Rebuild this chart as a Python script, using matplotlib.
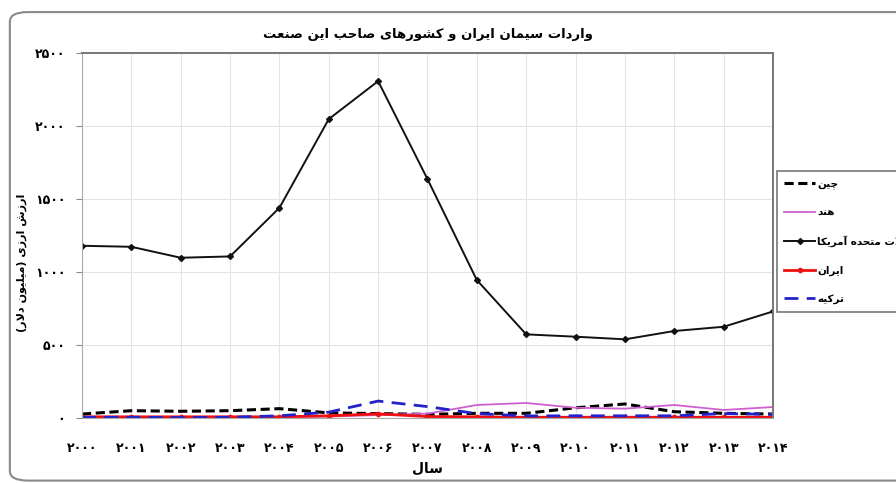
import matplotlib
matplotlib.use("Agg")
import matplotlib.pyplot as plt
from matplotlib.patches import FancyBboxPatch

# data (million dollars)
years = list(range(2000, 2015))
china = [27, 50, 46, 50, 64, 35, 30, 25, 32, 32, 70, 96, 43, 32, 27]
india = [3, 3, 3, 3, 5, 10, 20, 30, 89, 103, 70, 64, 89, 55, 75]
usa = [1180, 1173, 1098, 1107, 1440, 2048, 2308, 1637, 945, 573, 557, 539, 596, 625, 730]
iran = [8, 8, 8, 8, 8, 15, 28, 10, 8, 5, 5, 5, 5, 5, 5]
turkey = [5, 5, 3, 5, 15, 40, 116, 78, 30, 14, 15, 15, 15, 30, 25]

yticks = [0, 500, 1000, 1500, 2000, 2500]

title = "واردات سیمان ایران و کشورهای صاحب این صنعت"
ylab = "ارزش ارزی (میلیون دلار)"
xlab = "سال"
names = ["چین", "هند", "ایالات متحده آمریکا", "ایران", "ترکیه"]

# matplotlib does no arabic shaping / bidi, so do a small one by hand
# (isolated, final, initial, medial)
FORMS = {
    'ا': ('\uFE8D', '\uFE8E', None, None),
    'آ': ('\uFE81', '\uFE82', None, None),
    'ب': ('\uFE8F', '\uFE90', '\uFE91', '\uFE92'),
    'ت': ('\uFE95', '\uFE96', '\uFE97', '\uFE98'),
    'ح': ('\uFEA1', '\uFEA2', '\uFEA3', '\uFEA4'),
    'د': ('\uFEA9', '\uFEAA', None, None),
    'ر': ('\uFEAD', '\uFEAE', None, None),
    'ز': ('\uFEAF', '\uFEB0', None, None),
    'س': ('\uFEB1', '\uFEB2', '\uFEB3', '\uFEB4'),
    'ش': ('\uFEB5', '\uFEB6', '\uFEB7', '\uFEB8'),
    'ص': ('\uFEB9', '\uFEBA', '\uFEBB', '\uFEBC'),
    'ع': ('\uFEC9', '\uFECA', '\uFECB', '\uFECC'),
    'ل': ('\uFEDD', '\uFEDE', '\uFEDF', '\uFEE0'),
    'م': ('\uFEE1', '\uFEE2', '\uFEE3', '\uFEE4'),
    'ن': ('\uFEE5', '\uFEE6', '\uFEE7', '\uFEE8'),
    'ه': ('\uFEE9', '\uFEEA', '\uFEEB', '\uFEEC'),
    'و': ('\uFEED', '\uFEEE', None, None),
    'ی': ('\uFBFC', '\uFBFD', '\uFBFE', '\uFBFF'),
    'ک': ('\uFB8E', '\uFB8F', '\uFB90', '\uFB91'),
    'چ': ('\uFB7A', '\uFB7B', '\uFB7C', '\uFB7D'),
}


def fa(text):
    res = []
    i = 0
    n = len(text)
    while i < n:
        c = text[i]
        if c not in FORMS:
            res.append(c)
            i += 1
            continue
        prev = text[i - 1] if i > 0 else None
        nxt = text[i + 1] if i + 1 < n else None
        jp = prev in FORMS and FORMS[prev][2] is not None
        if c == 'ل' and nxt == 'ا':
            res.append('\uFEFC' if jp else '\uFEFB')
            i += 2
            continue
        jn = nxt in FORMS and FORMS[c][2] is not None
        f = FORMS[c]
        if jp and jn:
            res.append(f[3])
        elif jp:
            res.append(f[1])
        elif jn:
            res.append(f[2])
        else:
            res.append(f[0])
        i += 1
    out = ''.join(reversed(res))
    return out.translate(str.maketrans('()', ')('))


def fa_num(v):
    return str(v).translate(str.maketrans('0123456789', '۰۱۲۳۴۵۶۷۸۹'))


plt.rcParams['font.family'] = ['DejaVu Sans']

fig = plt.figure(figsize=(8.96, 4.83), dpi=100)
fig.patches.append(FancyBboxPatch((0.011, 0.005), 1.2, 0.97,
                                  boxstyle="round,pad=0,rounding_size=0.02",
                                  transform=fig.transFigure, fc='white',
                                  ec='#8a8a8a', lw=1.5, zorder=-1))
ax = fig.add_axes([0.0915, 0.1346, 0.7712, 0.7554])

ax.plot(years, china, color='black', lw=2.2, ls=(0, (3, 1.5)), label=fa(names[0]))
ax.plot(years, india, color='#d060d0', lw=1.3, label=fa(names[1]))
ax.plot(years, usa, color='#111111', lw=1.4, marker='D', ms=3, label=fa(names[2]))
ax.plot(years, iran, color='#ee1111', lw=2, marker='o', ms=3, label=fa(names[3]))
ax.plot(years, turkey, color='#2222cc', lw=2, ls=(0, (5, 3)), label=fa(names[4]))

ax.set_xlim(2000, 2014)
ax.set_ylim(0, 2500)
ax.set_xticks(years)
ax.set_xticklabels([fa_num(y) for y in years], fontsize=9, fontweight='bold')
ax.set_yticks(yticks)
ax.set_yticklabels([fa_num(y) for y in yticks], fontsize=9, fontweight='bold')
ax.tick_params(axis='x', length=0, pad=17)
ax.tick_params(axis='y', length=4, pad=8, color='#888888')
ax.grid(True, color='#e4e4e4', lw=0.8)
ax.set_axisbelow(True)
for s in ['top', 'right']:
    ax.spines[s].set_color('#777777')
    ax.spines[s].set_linewidth(1.4)
for s in ['left', 'bottom']:
    ax.spines[s].set_color('#aaaaaa')

ax.set_title(fa(title), fontsize=9.5, fontweight='bold', pad=11)
ax.set_xlabel(fa(xlab), fontsize=10, fontweight='bold', labelpad=5)
ax.set_ylabel(fa(ylab), fontsize=8, fontweight='bold')
ax.yaxis.set_label_coords(-0.08, 0.425)

leg = ax.legend(loc='upper left', bbox_to_anchor=(0.867, 1 - 171 / 483),
                bbox_transform=fig.transFigure, fontsize=7.5, frameon=True,
                fancybox=False, edgecolor='#555555', handlelength=3.0,
                handletextpad=0.2, labelspacing=1.75, borderaxespad=0,
                borderpad=0.7)
leg.get_frame().set_linewidth(1.2)
for t in leg.get_texts():
    t.set_fontweight('bold')

fig.savefig('out.png', dpi=100)
